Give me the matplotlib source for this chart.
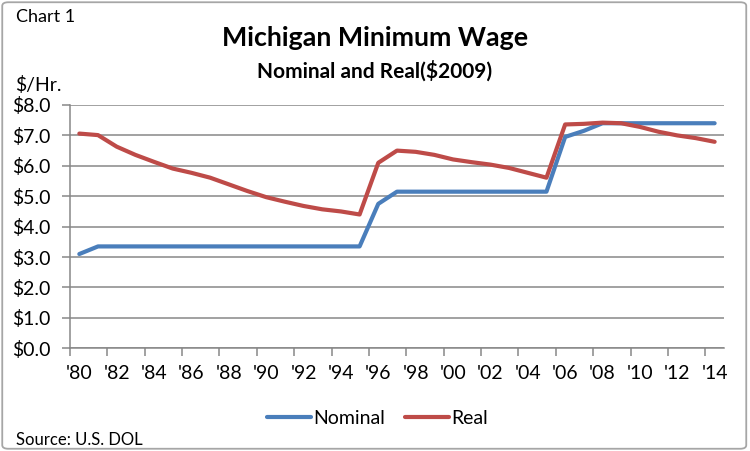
import numpy as np
import matplotlib
matplotlib.use("Agg")
import matplotlib.pyplot as plt
from matplotlib.patches import FancyBboxPatch

plt.rcParams['font.family'] = ['Lato', 'DejaVu Sans']

# data
years = list(range(1980, 2015))
nominal = [3.10, 3.35, 3.35, 3.35, 3.35, 3.35, 3.35, 3.35, 3.35, 3.35,
           3.35, 3.35, 3.35, 3.35, 3.35, 3.35, 4.75, 5.15, 5.15, 5.15,
           5.15, 5.15, 5.15, 5.15, 5.15, 5.15, 6.95, 7.15, 7.40, 7.40,
           7.40, 7.40, 7.40, 7.40, 7.40]
real = [7.06, 7.01, 6.63, 6.36, 6.13, 5.91, 5.77, 5.61, 5.39, 5.17,
        4.97, 4.82, 4.68, 4.57, 4.50, 4.40, 6.10, 6.50, 6.46, 6.36,
        6.21, 6.12, 6.04, 5.93, 5.77, 5.61, 7.36, 7.38, 7.42, 7.40,
        7.28, 7.12, 7.00, 6.91, 6.79]
label_years = list(range(1980, 2015, 2))
x_labels = ["'%02d" % (y % 100) for y in label_years]
y_ticks = np.arange(0, 9, 1)
y_labels = ["$%.1f" % v for v in y_ticks]

blue = '#4A7EBB'
red = '#BE4B48'
grid = '#878787'

fig = plt.figure(figsize=(7.5, 4.51), dpi=100)
ax = fig.add_axes([0.0933, 0.2277, 0.872, 0.5395])

for v in y_ticks:
    ax.axhline(v, color=grid, lw=1.1, zorder=1)

ax.plot(years, nominal, color=blue, lw=3.0, label='Nominal', zorder=3,
        solid_capstyle='round')
ax.plot(years, real, color=red, lw=3.0, label='Real', zorder=3,
        solid_capstyle='round')

ax.set_xlim(1979.5, 2014.5)
ax.set_ylim(0, 8)

# tick marks sit between categories, labels under every other category
ax.set_xticks(np.arange(1979.5, 2014, 2))
ax.set_xticklabels([])
ax.set_xticks(label_years, minor=True)
ax.set_xticklabels(x_labels, minor=True)
ax.tick_params(axis='x', which='major', length=6, width=1.1, color=grid,
               direction='out')
ax.tick_params(axis='x', which='minor', length=0, pad=12, labelsize=14)
ax.set_yticks(y_ticks)
ax.set_yticklabels(y_labels)
ax.tick_params(axis='y', length=6, width=1.1, color=grid, direction='out',
               pad=8, labelsize=14)

for s in ['top', 'right']:
    ax.spines[s].set_visible(False)
for s in ['left', 'bottom']:
    ax.spines[s].set_color(grid)
    ax.spines[s].set_linewidth(1.1)

fig.text(0.5, 0.915, 'Michigan Minimum Wage', ha='center', va='center',
         fontsize=19.3, fontweight='bold')
fig.text(0.5, 0.843, 'Nominal and Real($2009)', ha='center', va='center',
         fontsize=15, fontweight='bold')
fig.text(0.021, 0.962, 'Chart 1', ha='left', va='center', fontsize=13)
fig.text(0.020, 0.811, '$/Hr.', ha='left', va='center', fontsize=14)
fig.text(0.022, 0.024, 'Source: U.S. DOL', ha='left', va='center',
         fontsize=12)

fig.legend(loc='center', bbox_to_anchor=(0.503, 0.073), ncol=2,
           frameon=False, fontsize=14, handlelength=2.3, handletextpad=0.1,
           columnspacing=1.0)

border = FancyBboxPatch((0.003, 0.005), 0.992, 0.99,
                        boxstyle='round,pad=0,rounding_size=0.008',
                        transform=fig.transFigure, fill=False,
                        edgecolor='#A6A6A6', lw=1.3)
fig.patches.append(border)

fig.savefig('out.png', dpi=100)
